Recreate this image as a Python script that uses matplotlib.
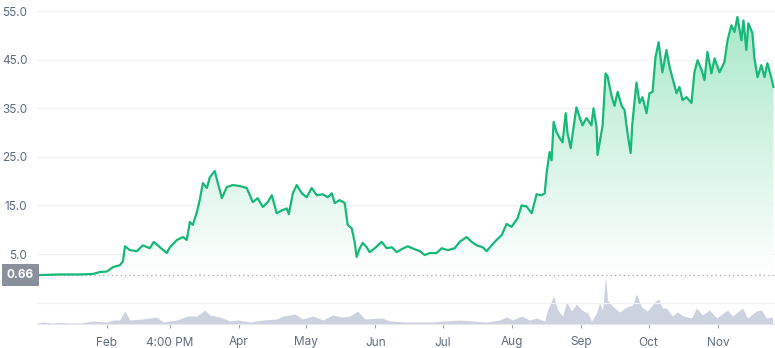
import matplotlib.pyplot as plt
import numpy as np
from matplotlib.colors import LinearSegmentedColormap
from matplotlib.patches import Polygon
from matplotlib.transforms import blended_transform_factory

plt.rcParams["font.family"] = ["Inter", "DejaVu Sans"]

# price (day of year, value)
price_day = [0, 10, 19, 24.8, 27.9, 31, 33.7, 36.8, 38.2, 39.1, 41.3, 44.4, 47.1, 50.2, 52, 54.7,
             57.8, 59.2, 62.3, 65, 66.7, 68.1, 69.4, 71.2, 72.5, 73.9, 75.7, 77, 79.2, 80.6, 82.4,
             84.6, 87.3, 90.4, 93.5, 96.2, 98.4, 100.7, 102.9, 104.7, 106.9, 109.2, 111.4, 112.3,
             114.1, 115.8, 118.1, 120.3, 122.5, 124.8, 127.5, 129.7, 131.5, 132.8, 135, 137.3,
             138.6, 140.4, 141.7, 142.6, 144, 145.3, 147.1, 148.4, 150.7, 153.8, 156, 158.3, 160.5,
             162.7, 165.4, 168.5, 170.8, 173, 175.2, 178.3, 180.6, 183.3, 186.4, 188.6, 191.7, 194,
             196.2, 198.9, 200.7, 202.9, 205.1, 207.4, 209.6, 211.8, 214.5, 216.3, 218.5, 220.8,
             223, 225.2, 226.6, 227.5, 228.8, 229.7, 230.6, 231.9, 233.3, 234.6, 236, 236.8, 238.2,
             239.5, 240.8, 242.2, 243.5, 245.3, 247.5, 248.4, 249.8, 250.2, 251.6, 252.5, 253.8,
             254.7, 256.5, 257.8, 259.2, 261, 262.3, 263.6, 265, 265.8, 267.6, 269, 270.3, 272.1,
             273.4, 274.8, 276.1, 277.5, 279.2, 281, 282.4, 283.7, 285.5, 286.8, 288.2, 290, 292.2,
             293.5, 294.9, 296.7, 298, 299.3, 301.1, 302.5, 304.7, 306.9, 308.3, 310, 311.4, 312.7,
             314.5, 315.4, 316.7, 317.6, 319.4, 320.3, 321.7, 323.4, 324.8, 326.1, 327.9, 328.8]
price = [0.66, 0.8, 0.8, 0.9, 1.3, 1.4, 2.3, 2.7, 3.5, 6.6, 5.8, 5.6, 6.8, 6.2, 7.5, 6.4,
         5.2, 6.4, 7.9, 8.5, 7.9, 11.6, 11, 13.6, 16.1, 19.6, 18.6, 20.8, 22.1, 19.6, 16.5,
         18.8, 19.2, 19, 18.6, 15.7, 16.5, 14.7, 15.7, 17.1, 13.4, 14, 14.4, 13.2,
         17.5, 19.2, 17.5, 16.7, 18.6, 17.1, 17.3, 16.7, 17.5, 15.5, 16.1, 15.5,
         11, 10.3, 7.5, 4.4, 6.2, 7.3, 6.4, 5.4, 6.2, 7.5, 6.2, 6.4, 5.4,
         6, 6.6, 6, 5.6, 4.8, 5.2, 5.2, 6.2, 5.8, 6.2, 7.5, 8.5, 7.5,
         6.8, 6.4, 5.6, 6.8, 7.9, 8.9, 11.2, 10.6, 12.4, 15, 14.8, 13.4,
         17.3, 17.1, 17.5, 21.8, 26, 24.3, 32.2, 30.1, 28.9, 28, 34, 29.9, 26.8,
         31.1, 35.2, 33.2, 31.5, 33, 31.5, 35, 31.1, 25.4, 29.1, 31.5, 42.2,
         41.6, 37.5, 35.5, 38.4, 35.5, 34.6, 29.9, 25.8, 32, 40.3, 36.1, 37.3, 34,
         38.1, 38.4, 45.5, 48.6, 42.4, 47, 43.5, 41.2, 38.1, 39.4, 36.7, 37.3, 36.1,
         42.4, 44.9, 42.9, 40.8, 46.6, 42.2, 45.3, 42.4, 44.5, 49, 52.1, 50.7, 53.8,
         49, 53.1, 47, 52.5, 50.5, 45.3, 41.4, 43.9, 41.4, 44.3, 41.2, 39.4]

# volume, relative units
vol_day = [0, 2.5, 6.5, 10, 14, 19, 24.8, 31, 33.7, 36.8, 39.1, 41.3, 47.1, 53.3, 56, 62.3, 67,
           71.2, 74.8, 77, 81.5, 86, 89.5, 95, 100.7, 106.9, 109.6, 112.7, 115, 118.5, 123,
           127.5, 131.9, 135.9, 139.5, 143.1, 146.2, 154, 157.4, 165, 171, 176, 188.6, 194.4,
           200.7, 206.5, 209.6, 212.3, 216.3, 219.9, 223, 226.6, 227.9, 230.6, 232.4, 234.6,
           236.4, 238.6, 240.8, 243.1, 245.8, 247.5, 249.8, 251.1, 252.5, 253.8, 254.7, 256.9,
           260, 263.2, 265.8, 267.6, 269.9, 272.5, 276.1, 277.5, 279.2, 281, 283.7, 285.9,
           288.6, 292.2, 294.4, 297.1, 300.2, 303.4, 308.3, 310.5, 315, 317.2, 321.2, 323.4,
           325.7, 328.4]
volume = [1, 2, 1, 1.5, 1, 1, 3, 2, 4, 4, 13, 4, 5, 7, 2, 4, 8,
          8, 14, 9, 7, 3, 4, 2, 4, 5, 8, 9, 10, 5, 8,
          4, 9, 7, 8, 13, 5, 6, 3, 2, 2, 2, 4, 3,
          2, 4, 7, 4, 8, 4, 6, 3, 14, 28, 14, 8,
          22, 13, 20, 14, 11, 3, 11, 21, 14, 48, 24, 18,
          12, 17, 19, 30, 17, 13, 23, 25, 16, 16, 8, 12,
          8, 6, 16, 9, 14, 6, 14, 8, 16, 6, 13, 14,
          6, 7]

month_days = [31, 59, 90, 120, 151, 181, 212, 243, 273, 304]
month_labels = ["Feb", "4:00 PM", "Apr", "May", "Jun", "Jul", "Aug", "Sep", "Oct", "Nov"]
y_ticks = [-5, 5, 15, 25, 35, 45, 55]
y_labels = ["", "5.0", "15.0", "25.0", "35.0", "45.0", "55.0"]
open_price = 0.66

green = "#16b978"
grey_txt = "#5f6b7f"

fig = plt.figure(figsize=(7.75, 3.48), dpi=100)
ax = fig.add_axes([37 / 775, 24 / 348, 738 / 775, 324 / 348])
ax2 = ax.twinx()

ax.set_xlim(-0.2, 329.5)
ax.set_ylim(-9.4, 57.3)
ax2.set_ylim(0, 324)

# volume band
ax2.fill_between(vol_day, volume, 0, color="#cdd2e0", lw=0)
ax2.set_yticks([])

# gradient under the price line
cmap = LinearSegmentedColormap.from_list("fade", ["#ffffff", "#a6e8c8"])
grad = np.linspace(0, 1, 256).reshape(-1, 1)
img = ax.imshow(grad, cmap=cmap, aspect="auto", origin="lower",
                extent=[-0.2, 329.5, open_price, 56], zorder=1)
poly = np.column_stack([np.r_[price_day, price_day[-1], price_day[0]],
                        np.r_[price, open_price, open_price]])
clip = Polygon(poly, closed=True, transform=ax.transData, facecolor="none", edgecolor="none")
ax.add_patch(clip)
img.set_clip_path(clip)

ax.plot(price_day, price, color=green, lw=1.6, zorder=3)

ax.axhline(open_price, color="#a0a6b3", lw=0.9, ls=(0, (1, 2.5)), zorder=2)
tr = blended_transform_factory(ax.transAxes, ax.transData)
ax.text(-0.004, open_price, "0.66", transform=tr, ha="right", va="center",
        color="white", fontsize=8.5, fontweight="bold", zorder=5,
        bbox=dict(boxstyle="square,pad=0.4", facecolor="#8a8f9c", edgecolor="none"))

ax.set_yticks(y_ticks)
ax.set_yticklabels(y_labels)
ax.grid(axis="y", color="#eff1f4", lw=0.9)
ax.set_axisbelow(True)
ax.tick_params(axis="y", length=0, pad=7, labelsize=8.5, labelcolor=grey_txt)

ax.set_xticks(month_days)
ax.set_xticklabels(month_labels)
ax.tick_params(axis="x", length=3, width=0.8, color="#a0a6b3", pad=6,
               labelsize=8.5, labelcolor=grey_txt)

for a in (ax, ax2):
    for s in a.spines.values():
        s.set_visible(False)
ax.spines["bottom"].set_visible(True)
ax.spines["bottom"].set_color("#e6e8ec")

ax.set_zorder(ax2.get_zorder() + 1)
ax.patch.set_visible(False)

fig.savefig("out.png", dpi=100)
